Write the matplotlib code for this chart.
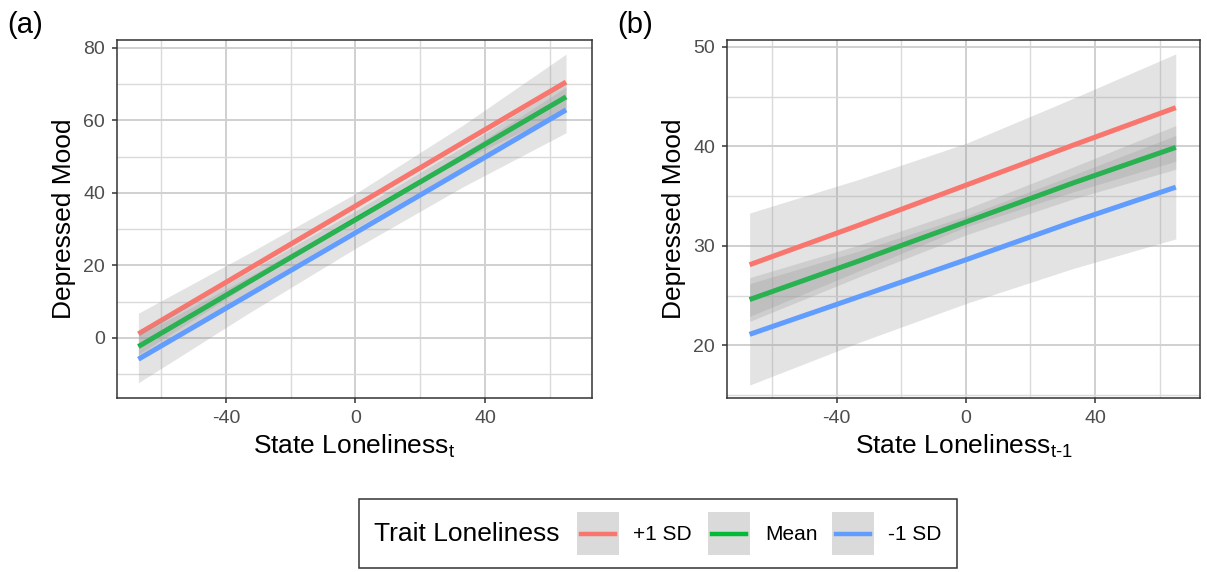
import matplotlib
matplotlib.use("Agg")
import matplotlib.pyplot as plt
from matplotlib.patches import Rectangle
from matplotlib.lines import Line2D

plt.rcParams["font.family"] = ["Liberation Sans", "DejaVu Sans"]
plt.rcParams["mathtext.fontset"] = "custom"
plt.rcParams["mathtext.rm"] = "Liberation Sans"
plt.rcParams["mathtext.it"] = "Liberation Sans"
plt.rcParams["axes.unicode_minus"] = False

# predicted values at a few state-loneliness points
x_pts = [-67, -33, 0, 33, 65]
groups = ["+1 SD", "Mean", "-1 SD"]
colors = ["#F8766D", "#00BA38", "#619CFF"]

# panel (a): concurrent
a_fit = {
    "+1 SD": [1.1, 19.0, 36.4, 53.8, 70.6],
    "Mean": [-2.4, 15.4, 32.6, 49.8, 66.5],
    "-1 SD": [-5.9, 11.8, 29.0, 46.2, 62.9],
}
a_half = {
    "+1 SD": [5.7, 4.3, 3.4, 4.8, 7.7],
    "Mean": [3.8, 2.8, 2.4, 2.8, 3.8],
    "-1 SD": [6.5, 5.0, 4.3, 4.6, 6.3],
}

# panel (b): lagged
b_fit = {
    "+1 SD": [28.1, 32.1, 36.1, 40.1, 43.9],
    "Mean": [24.6, 28.5, 32.4, 36.3, 39.9],
    "-1 SD": [21.1, 24.9, 28.6, 32.4, 35.9],
}
b_half = {
    "+1 SD": [5.2, 4.6, 4.2, 4.7, 5.4],
    "Mean": [2.2, 1.6, 1.3, 1.6, 2.2],
    "-1 SD": [5.1, 4.6, 4.4, 4.7, 5.2],
}

fig = plt.figure(figsize=(12.07, 5.72), dpi=100)
W, H = 1207, 572


def style_axes(ax, xlim, ylim, yticks, yminor):
    ax.set_xlim(*xlim)
    ax.set_ylim(*ylim)
    ax.set_xticks([-40, 0, 40])
    ax.set_xticks([-60, -20, 20, 60], minor=True)
    ax.set_yticks(yticks)
    ax.set_yticks(yminor, minor=True)
    ax.grid(True, which="major", color="#d0d0d0", lw=1.4)
    ax.grid(True, which="minor", color="#dadada", lw=1.0)
    ax.set_axisbelow(True)
    ax.tick_params(which="major", length=3.5, width=1.1, color="#333333",
                   labelsize=14, labelcolor="#4d4d4d", pad=5)
    ax.tick_params(which="minor", length=0)
    for s in ax.spines.values():
        s.set_color("#333333")
        s.set_linewidth(1.1)


def draw_panel(ax, fit, half):
    for g, c in zip(groups, colors):
        lo = [m - h for m, h in zip(fit[g], half[g])]
        hi = [m + h for m, h in zip(fit[g], half[g])]
        ax.fill_between(x_pts, lo, hi, color="#999999", alpha=0.27, lw=0, zorder=2)
        ax.plot(x_pts, fit[g], color=c, lw=3.6, solid_capstyle="butt", zorder=2)


ax1 = fig.add_axes([117 / W, 1 - 398 / H, 475 / W, 358 / H])
draw_panel(ax1, a_fit, a_half)
style_axes(ax1, (-73.6, 73.0), (-16.6, 82.2), [0, 20, 40, 60, 80],
           [-10, 10, 30, 50, 70])
ax1.set_ylabel("Depressed Mood", fontsize=19, labelpad=5)
ax1.set_xlabel(r"State Loneliness$_\mathregular{t}$", fontsize=19, labelpad=4)

ax2 = fig.add_axes([727 / W, 1 - 398 / H, 473 / W, 358 / H])
draw_panel(ax2, b_fit, b_half)
style_axes(ax2, (-74.0, 72.5), (14.7, 50.7), [20, 30, 40, 50],
           [15, 25, 35, 45])
ax2.set_ylabel("Depressed Mood", fontsize=19, labelpad=5)
ax2.set_xlabel("State Loneliness$_\\mathregular{t\u20101}$", fontsize=19, labelpad=4)

fig.text(7 / W, 1 - 25 / H, "(a)", fontsize=21, va="center", ha="left")
fig.text(617 / W, 1 - 25 / H, "(b)", fontsize=21, va="center", ha="left")

# legend drawn in figure pixel space
def px(x, y):
    return x / W, 1 - y / H

lx0, ly0, lx1, ly1 = 359, 499, 957, 568
fig.patches.append(Rectangle(px(lx0, ly1), (lx1 - lx0) / W, (ly1 - ly0) / H,
                             transform=fig.transFigure, fc="white",
                             ec="#333333", lw=1.1))
fig.text(*px(374, 534), "Trait Loneliness", fontsize=19, va="center", ha="left")
key_x = [577, 708, 832]
lab_x = [633, 765, 888]
for kx, tx, g, c in zip(key_x, lab_x, groups, colors):
    fig.patches.append(Rectangle(px(kx, 555), 42 / W, 43 / H,
                                 transform=fig.transFigure, fc="#dadada",
                                 ec="none"))
    fig.lines.append(Line2D([(kx + 4) / W, (kx + 38) / W], [1 - 534 / H] * 2,
                            transform=fig.transFigure, color=c, lw=3.2))
    fig.text(*px(tx, 534), g, fontsize=15, va="center", ha="left")

fig.savefig("out.png", dpi=100)
